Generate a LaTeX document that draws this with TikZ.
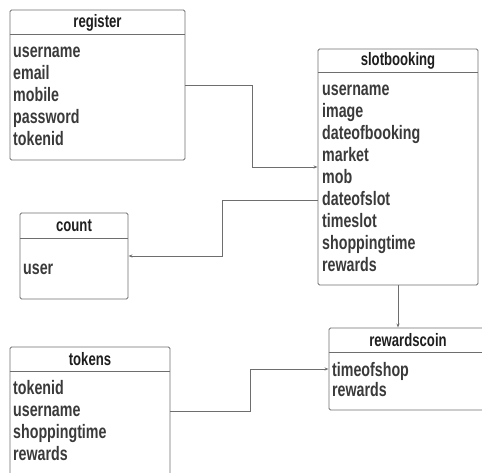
\documentclass[tikz,border=0pt]{standalone}
\usepackage{fontspec}
\setmainfont{Liberation Sans}[FakeStretch=0.73]
\usepackage{tikz}
\usetikzlibrary{arrows.meta,positioning,calc}
\definecolor{Lcolor}{HTML}{6E6E6E}
\definecolor{Tcolor}{HTML}{3A3A3A}
\definecolor{Hcolor}{HTML}{1E1E1E}

\begin{document}
\begin{tikzpicture}[x=1pt, y=-1pt,
  tbl/.style={draw=Lcolor, line width=0.9pt, rounded corners=1.5pt, inner sep=0pt},
  sep/.style={draw=Lcolor, line width=0.9pt},
  title/.style={font=\fontsize{18}{20}\selectfont\bfseries, text=Hcolor, inner sep=0pt},
  field/.style={font=\fontsize{19.5}{22}\selectfont\bfseries, text=Tcolor, anchor=base west, inner sep=0pt},
  link/.style={draw=Lcolor, line width=0.8pt, -{Stealth[length=4pt, width=3pt]}},
]
  \useasboundingbox (0,0) rectangle (482,473);
  \clip (0,0) rectangle (482,473);

  % register
  \node[tbl, minimum width=175pt, minimum height=150pt] (register) at (97.5, 85) {};
  \draw[sep] ([yshift=-25pt]register.north west) -- ([yshift=-25pt]register.north east);
  \node[title] (register-t) at (97.5, 22.5) {register};
  \foreach \f [count=\i] in {username, email, mobile, password, tokenid} {
    \node[field] (register-\i) at (13, 36+22*\i) {\f};
  }

  % slotbooking
  \node[tbl, minimum width=160pt, minimum height=236pt] (slotbooking) at (398, 167) {};
  \draw[sep] ([yshift=-24pt]slotbooking.north west) -- ([yshift=-24pt]slotbooking.north east);
  \node[title] (slotbooking-t) at (398, 61) {slotbooking};
  \foreach \f [count=\i] in {username, image, dateofbooking, market, mob, dateofslot, timeslot, shoppingtime, rewards} {
    \node[field] (slotbooking-\i) at (322, 74+21.9*\i) {\f};
  }

  % count
  \node[tbl, minimum width=108pt, minimum height=86pt] (count) at (74, 256) {};
  \draw[sep] ([yshift=-26pt]count.north west) -- ([yshift=-26pt]count.north east);
  \node[title] (count-t) at (74, 226) {count};
  \node[field] (count-1) at (23, 274) {user};

  % tokens
  \node[tbl, minimum width=160pt, minimum height=128pt] (tokens) at (90, 411) {};
  \draw[sep] ([yshift=-25pt]tokens.north west) -- ([yshift=-25pt]tokens.north east);
  \node[title] (tokens-t) at (90, 359.5) {tokens};
  \foreach \f [count=\i] in {tokenid, username, shoppingtime, rewards} {
    \node[field] (tokens-\i) at (13, 372+22*\i) {\f};
  }

  % rewardscoin
  \node[tbl, minimum width=158pt, minimum height=82pt] (rewardscoin) at (408, 369) {};
  \draw[sep] ([yshift=-25pt]rewardscoin.north west) -- ([yshift=-25pt]rewardscoin.north east);
  \node[title] (rewardscoin-t) at (408, 340.5) {rewardscoin};
  \foreach \f [count=\i] in {timeofshop, rewards} {
    \node[field] (rewardscoin-\i) at (332, 356+20*\i) {\f};
  }

  % connectors
  \draw[link] (register.east) -- ++(67,0) |- (slotbooking.west);
  \draw[link] ([yshift=-33pt]slotbooking.west) -- ++(-95,0) |- (count.east);
  \draw[link] (slotbooking.south) -- (slotbooking.south |- rewardscoin.north);
  \draw[link] (tokens.east) -- ++(80,0) |- (rewardscoin.west);
\end{tikzpicture}
\end{document}
